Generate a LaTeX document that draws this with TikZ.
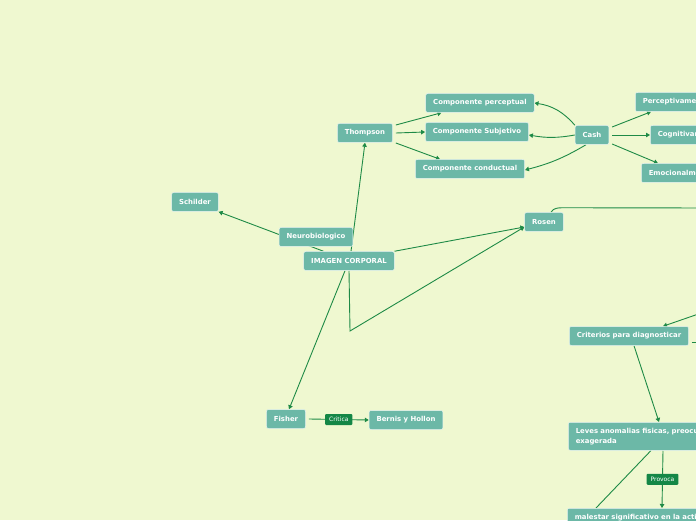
\documentclass[tikz,border=0pt]{standalone}
\usepackage{fontspec}
\setsansfont{DejaVu Sans}
\usepackage{tikz}
\usetikzlibrary{arrows.meta, positioning, calc, backgrounds}
\definecolor{mapbg}{RGB}{239,248,208}
\definecolor{topicteal}{RGB}{108,184,167}
\definecolor{linkgreen}{RGB}{30,138,70}
\definecolor{tagdark}{RGB}{20,135,70}

\begin{document}
\begin{tikzpicture}[x=1pt, y=1pt,
    topic/.style={rectangle, rounded corners=2pt, fill=topicteal, draw=white!85!topicteal, line width=0.5pt,
        text=white, font=\sffamily\bfseries\fontsize{6.9}{10}\selectfont,
        inner xsep=7.5pt, inner ysep=0pt, minimum height=19pt},
    link/.style={draw=linkgreen, line width=0.9pt},
    linkarrow/.style={link, -{Triangle[length=4pt, width=4.5pt]}},
    tag/.style={rectangle, rounded corners=1pt, fill=tagdark, text=white,
        font=\sffamily\fontsize{6}{7}\selectfont, inner xsep=4pt, inner ysep=0pt, minimum height=11pt}]
    % Canvas size
    \useasboundingbox (0,0) rectangle (696,520);

    % Main topic and left branch
    \node[topic] (img) at (349,259) {IMAGEN CORPORAL};
    \node[topic] (neuro) at (316,283) {Neurobiologico};
    \node[topic] (schilder) at (195,318) {Schilder};
    \node[topic] (thompson) at (365,387) {Thompson};

    % Components
    \node[topic] (perc) at (480,417) {Componente perceptual};
    \node[topic] (subj) at (477,388) {Componente Subjetivo};
    \node[topic] (cond) at (470,351) {Componente conductual};

    % Cash and its branches
    \node[topic] (cash) at (592,385) {Cash};
    \node[topic, anchor=west] (percv) at (635,418) {Perceptivamente};
    \node[topic, anchor=west] (cogn) at (650,385) {Cognitivamente};
    \node[topic, anchor=west] (emoc) at (641,347) {Emocionalmente};

    % Rosen and diagnosis
    \node[topic] (rosen) at (544,298) {Rosen};
    \node[topic] (crit) at (629,184) {Criterios para diagnosticar};
    \node[topic, anchor=north west, align=left, text width=300pt, minimum height=28pt] (leves) at (568,98)
        {Leves anomalias fisicas, preocupación por su apariencia\\exagerada};
    \node[topic, anchor=north west, text width=300pt, minimum height=19pt] (malestar) at (567,12)
        {malestar significativo en la actividad};

    % Fisher
    \node[topic] (fisher) at (286,101) {Fisher};
    \node[topic] (bernis) at (406,100) {Bernis y Hollon};

    % Free ends off the right edge
    \coordinate (rosenout) at (710,312);
    \coordinate (critin) at (710,210);
    \coordinate (critout) at (710,178);
    \coordinate (bend) at (350,189);

    % Background and connectors
    \begin{scope}[on background layer]
        \fill[mapbg] (0,0) rectangle (696,520);

        \draw[linkarrow] ([xshift=20pt]img.north west) -- (schilder.south east);
        \draw[linkarrow] ([xshift=2pt]img.north) -- (thompson.south);

        \draw[linkarrow] ([shift={(3,8)}]thompson.east) -- ([xshift=16pt]perc.south west);
        \draw[linkarrow] ([xshift=3pt]thompson.east) -- (subj.west);
        \draw[linkarrow] ([shift={(3,-10)}]thompson.east) -- ([xshift=25pt]cond.north west);

        \draw[linkarrow] (cash.north west) to[bend right=20] (perc.east);
        \draw[linkarrow] (cash.west) to[bend left=10] ([yshift=-3pt]subj.east);
        \draw[linkarrow] ([xshift=-6pt]cash.south) to[bend left=8] ([yshift=-1pt]cond.east);

        \draw[linkarrow] ([shift={(3,8)}]cash.east) -- ([xshift=16pt]percv.south west);
        \draw[linkarrow] ([xshift=3pt]cash.east) -- (cogn.west);
        \draw[linkarrow] ([shift={(3,-9)}]cash.east) -- ([xshift=17pt]emoc.north west);

        \draw[linkarrow] (img.north east) -- ([yshift=-5pt]rosen.west);
        \draw[linkarrow] (img.south) -- (bend) -- ([yshift=-5pt]rosen.west);
        \draw[link] ([xshift=7pt]rosen.north) to[out=60, in=180] ++(12,4.5) -- (rosenout);

        \draw[linkarrow] (critin) -- ([xshift=34pt]crit.north);
        \draw[link] ([shift={(3,-6)}]crit.east) -- (critout);
        \draw[linkarrow] ([xshift=5pt]crit.south) -- ([xshift=91pt]leves.north west);
        \draw[linkarrow] ([xshift=95pt]leves.south west) -- node[tag] (provoca) {Provoca} ([xshift=95pt]malestar.north west);
        \draw[link] ([xshift=83pt]leves.south west) -- ([xshift=29pt]malestar.north west);

        \draw[linkarrow] ([xshift=-4pt]img.south) -- ([xshift=3pt]fisher.north);
        \draw[linkarrow] ([xshift=3pt]fisher.east) -- node[tag] (critica) {Critica} (bernis.west);
    \end{scope}
\end{tikzpicture}
\end{document}
